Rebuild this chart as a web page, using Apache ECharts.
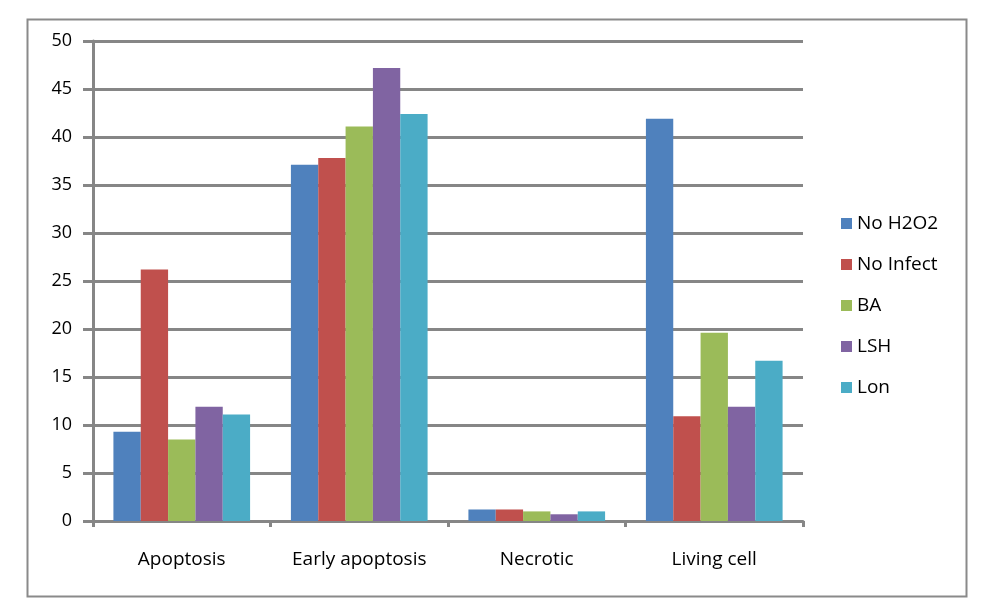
<!DOCTYPE html>
<html>
<head>
<meta charset="utf-8">
<script src="https://cdn.jsdelivr.net/npm/echarts@6/dist/echarts.min.js"></script>
<style>html,body{margin:0;padding:0;background:#fff;}#chart{width:988px;height:603px;}</style>
</head>
<body>
<div id="chart"></div>
<script>
var categories = ['Apoptosis', 'Early apoptosis', 'Necrotic', 'Living cell'];
var seriesNames = ['No H2O2', 'No Infect', 'BA', 'LSH', 'Lon'];
var noH2O2 = [9.3, 37.1, 1.2, 41.9];
var noInfect = [26.2, 37.8, 1.2, 10.9];
var ba = [8.5, 41.1, 1.0, 19.6];
var lsh = [11.9, 47.2, 0.7, 11.9];
var lon = [11.1, 42.4, 1.0, 16.7];
var colors = ['#4F81BD', '#C0504D', '#9BBB59', '#8064A2', '#4BACC6'];
var dataSets = [noH2O2, noInfect, ba, lsh, lon];

var FONT = 'Open Sans';
var chart = echarts.init(document.getElementById('chart'), null, {renderer: 'canvas'});
chart.setOption({
  animation: false,
  color: colors,
  graphic: [{
    type: 'rect', left: 25, top: 17, silent: true,
    shape: {width: 939, height: 577},
    style: {fill: 'none', stroke: '#8a8a8a', lineWidth: 2}
  }],
  grid: {left: 93, right: 185, top: 41, bottom: 82},
  legend: {
    orient: 'vertical', left: 841, top: 214, padding: 0,
    itemWidth: 11, itemHeight: 11, itemGap: 22, icon: 'rect',
    textStyle: {fontFamily: FONT, fontSize: 19, color: '#000'},
    data: seriesNames
  },
  xAxis: {
    type: 'category', data: categories,
    axisLine: {show: true, lineStyle: {color: '#868686', width: 3}},
    axisTick: {show: true, length: 6, lineStyle: {color: '#868686', width: 3}},
    axisLabel: {fontFamily: FONT, fontSize: 19, color: '#000', margin: 29}
  },
  yAxis: {
    type: 'value', min: 0, max: 50, interval: 5,
    axisLine: {show: true, lineStyle: {color: '#868686', width: 3}},
    axisTick: {show: true, length: 10, lineStyle: {color: '#868686', width: 3}},
    axisLabel: {fontFamily: FONT, fontSize: 18, color: '#000', margin: 21},
    splitLine: {show: true, lineStyle: {color: '#868686', width: 3}}
  },
  series: seriesNames.map(function (n, i) {
    return {
      name: n, type: 'bar', data: dataSets[i],
      barGap: '0%', barCategoryGap: '23%',
      itemStyle: {color: colors[i]}
    };
  })
});
</script>
</body>
</html>
